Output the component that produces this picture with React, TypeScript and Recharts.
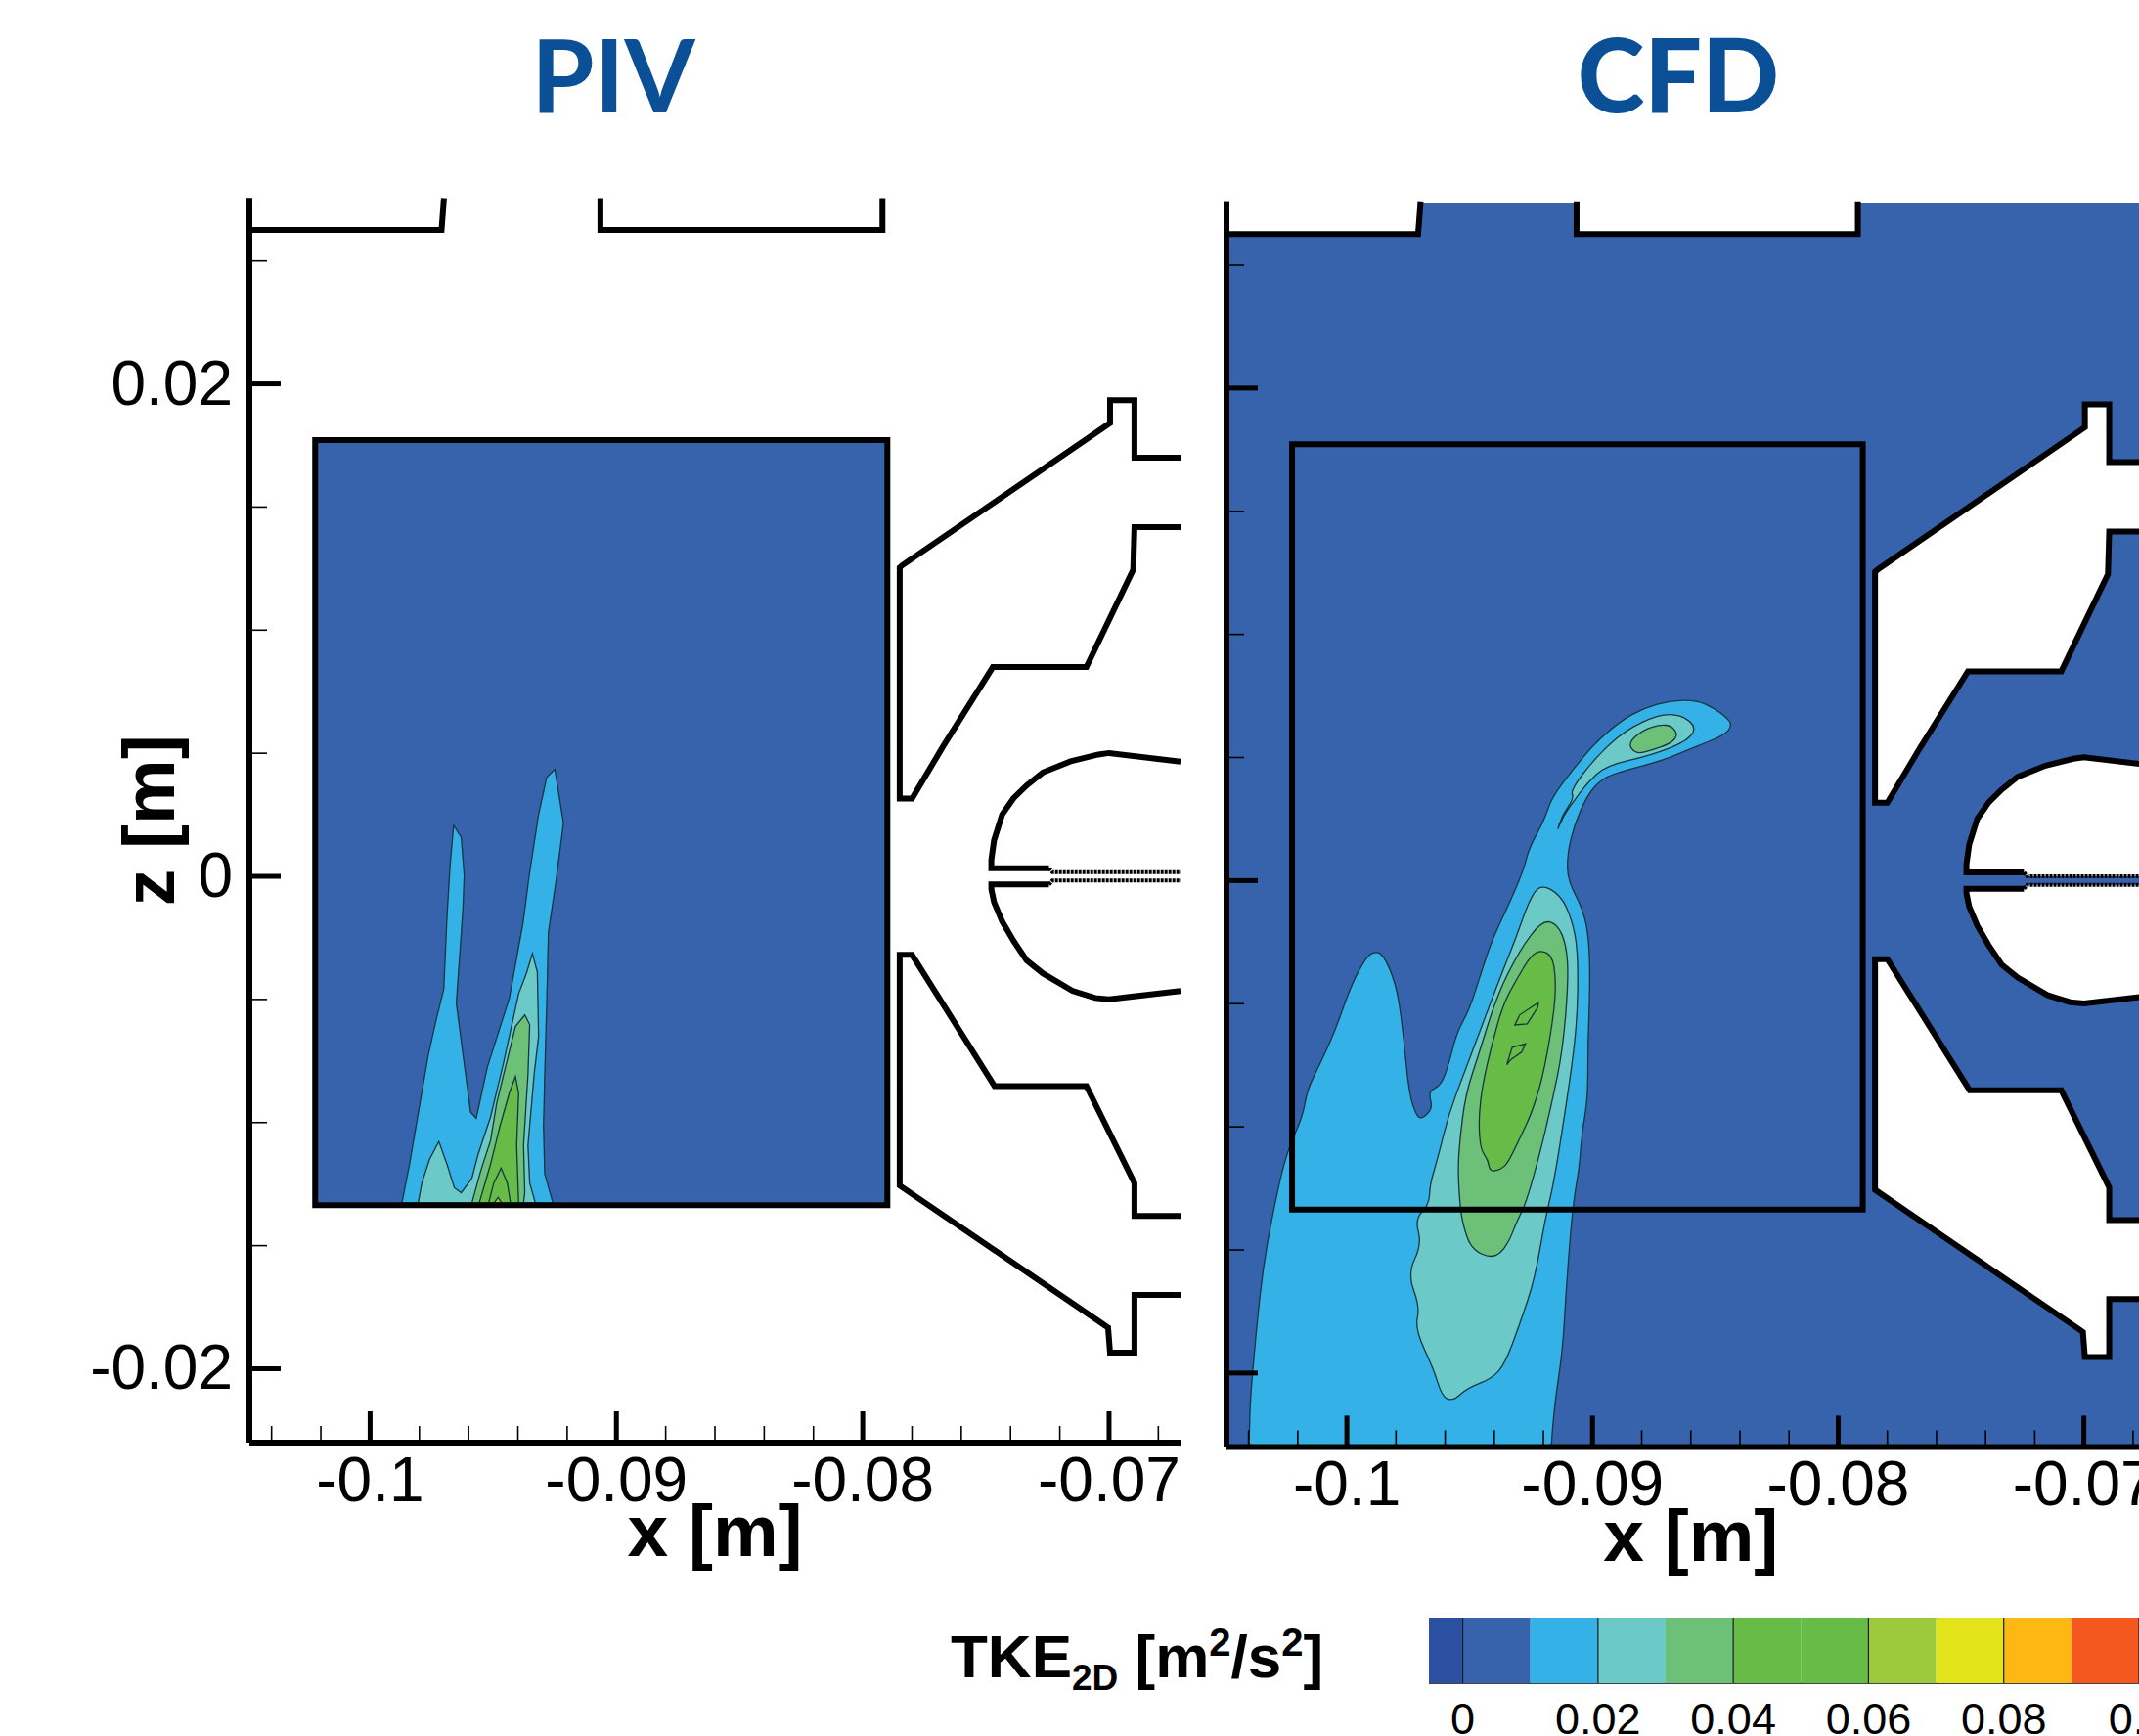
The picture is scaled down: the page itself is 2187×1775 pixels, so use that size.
import { Label, ReferenceLine, Scatter, ScatterChart, XAxis, YAxis } from 'recharts';

// all outlines below in millimetres, mm() turns them into metres
type Row = [number, number];
const mm = (rows: Row[]) => rows.map(([x, z]) => ({ x: x / 1000, z: z / 1000 }));

const xDomain = [-0.1049, -0.0671];
const zDomain = [-0.023, 0.0275];
const xTicks = [-0.104, -0.102, -0.1, -0.098, -0.096, -0.094, -0.092, -0.09, -0.088, -0.086, -0.084, -0.082, -0.08, -0.078, -0.076, -0.074, -0.072, -0.07, -0.068];
const xMajor = [-0.1, -0.09, -0.08, -0.07];
const zTicks = [0.025, 0.02, 0.015, 0.01, 0.005, 0, -0.005, -0.01, -0.015, -0.02];
const zMajor = [0.02, 0, -0.02];

const bandEdges = [-0.005, 0, 0.01, 0.02, 0.03, 0.04, 0.05, 0.06, 0.07, 0.08, 0.09, 0.1];
const bandColors = ['#2B4FA1', '#3763AD', '#34B2E8', '#6BCAC8', '#6CC077', '#66BC46', '#66BC46', '#9BCB3C', '#E2E31A', '#FDB813', '#F4581F'];
const legendTicks = [0, 0.02, 0.04, 0.06, 0.08, 0.1];

const plotBackground: Row[] = [[-104.9, 27.5], [-67.1, 27.5], [-67.1, -23], [-104.9, -23]];
const measureBox: Row[] = [[-102.23, 17.72], [-79.0, 17.72], [-79.0, -13.36], [-102.23, -13.36], [-102.23, 17.72]];

const bracketLeft: Row[] = [[-104.9, 27.55], [-104.9, 26.26], [-97.1, 26.26], [-97.0, 27.55]];
const bracketRight: Row[] = [[-90.65, 27.55], [-90.65, 26.26], [-79.2, 26.26], [-79.2, 27.55]];
const upperVane: Row[] = [
  [-67.1, 17.0], [-68.97, 17.0], [-68.97, 19.34], [-69.96, 19.34], [-69.96, 18.41], [-78.4, 12.63], [-78.5, 12.54],
  [-78.5, 3.16], [-78.0, 3.16], [-76.75, 5.26], [-74.72, 8.5], [-70.92, 8.5], [-69.02, 12.45], [-68.97, 14.18], [-67.1, 14.18],
];
const lowerVane: Row[] = [
  [-67.1, -13.79], [-68.97, -13.79], [-68.97, -12.46], [-70.92, -8.52], [-74.65, -8.52], [-78.0, -3.19], [-78.5, -3.19],
  [-78.5, -12.56], [-70.04, -18.33], [-69.96, -19.35], [-68.97, -19.35], [-68.97, -17.0], [-67.1, -17.0],
];
const noseUpper: Row[] = [
  [-67.1, 4.66], [-70.0, 5.01], [-70.43, 4.95], [-71.56, 4.67], [-72.69, 4.22], [-73.35, 3.69], [-73.88, 3.17], [-74.34, 2.51], [-74.67, 1.46], [-74.78, 0.67], [-74.78, 0.33], [-72.44, 0.33],
];
const tailUpper: Row[] = [[-72.44, 0.33], [-72.3, 0.17], [-67.1, 0.17]];
const noseLower: Row[] = [
  [-67.1, -4.66], [-70.0, -4.99], [-70.56, -4.94], [-71.49, -4.65], [-72.69, -3.94], [-73.35, -3.41], [-73.88, -2.62], [-74.34, -1.83], [-74.67, -1.05], [-74.78, -0.52], [-74.78, -0.33], [-72.44, -0.33],
];
const tailLower: Row[] = [[-72.44, -0.33], [-72.3, -0.17], [-67.1, -0.17]];

const pivLevel1: Row[] = [
  [-98.71, -13.27], [-98.4, -11.69], [-98.07, -9.77], [-97.64, -7.27], [-97.34, -5.92], [-97.01, -4.58], [-96.88, -1.69], [-96.76, 0.34],
  [-96.61, 2.07], [-96.3, 1.58], [-96.18, 0.04], [-96.23, -1.31], [-96.5, -5.15], [-96.25, -7.08], [-95.92, -9.58], [-95.69, -9.83],
  [-95.24, -7.75], [-94.35, -4.96], [-93.79, -1.88], [-93.54, 0.04], [-93.16, 2.52], [-92.83, 4.02], [-92.5, 4.35], [-92.15, 2.16],
  [-92.45, -0.17], [-92.76, -2.27], [-92.83, -5.15], [-92.91, -8.04], [-92.96, -10.15], [-92.91, -12.08], [-92.58, -13.27],
];
const pivLevel2: Row[] = [
  [-98.05, -13.27], [-97.9, -12.46], [-97.59, -11.5], [-97.21, -10.77], [-96.88, -11.69], [-96.58, -12.65], [-96.3, -12.85], [-95.87, -12.27],
  [-95.62, -11.31], [-95.11, -9.77], [-94.6, -7.65], [-93.97, -4.77], [-93.64, -3.9], [-93.41, -3.13], [-93.21, -3.9], [-93.16, -6.5],
  [-93.34, -8.04], [-93.59, -10.92], [-93.52, -12.46], [-93.29, -13.27],
];
const pivLevel3: Row[] = [
  [-95.87, -13.27], [-95.49, -11.9], [-95.11, -10.73], [-94.86, -9.2], [-94.48, -7.65], [-94.1, -6.1], [-93.72, -5.63], [-93.52, -6.02],
  [-93.59, -8.04], [-93.77, -10.92], [-93.72, -12.85], [-93.77, -13.27],
];
const pivLevel4: Row[] = [
  [-95.57, -13.27], [-95.11, -11.69], [-94.73, -10.15], [-94.35, -8.81], [-94.1, -8.13], [-93.97, -8.81], [-94.05, -10.92], [-93.97, -13.27],
];
const pivLevel5: Row[] = [[-95.19, -13.27], [-94.98, -12.46], [-94.68, -11.85], [-94.43, -12.46], [-94.3, -13.27]];
const pivLevel6: Row[] = [[-94.98, -13.27], [-94.8, -13.04], [-94.66, -13.27]];

const cfdLevel1: Row[] = [
  [-103.98, -23], [-103.97, -22.5], [-103.93, -21.04], [-103.7, -18.41], [-103.4, -15.58], [-102.86, -12.74], [-102.41, -10.92], [-101.8, -9.6], [-101.61, -8.49],
  [-101.11, -7.48], [-100.5, -6.16], [-99.82, -4.24], [-99.28, -3.23], [-98.98, -2.92], [-98.6, -2.92], [-98.22, -3.63], [-97.91, -4.64],
  [-97.68, -6.47], [-97.46, -8.69], [-97.15, -9.6], [-96.92, -9.66], [-96.51, -9.26], [-96.65, -8.69], [-96.54, -8.49], [-96.16, -8.29],
  [-95.86, -7.48], [-95.52, -6.16], [-95.02, -5.25], [-94.56, -3.83], [-94.1, -2.42], [-93.42, -1.0], [-92.81, 0.42], [-92.58, 1.33],
  [-91.97, 2.44], [-91.67, 3.35], [-90.83, 4.47], [-89.91, 5.58], [-88.85, 6.49], [-87.93, 7.0], [-86.87, 7.3], [-85.8, 7.34], [-85.04, 7.0],
  [-84.51, 6.59], [-84.32, 6.29], [-84.66, 5.89], [-85.95, 5.38], [-87.17, 4.87], [-88.7, 4.47], [-89.61, 4.16], [-90.22, 3.46], [-90.75, 2.24],
  [-91.03, 1.03], [-91.01, 0.01], [-90.37, -1.2], [-90.14, -2.42], [-90.1, -4.24], [-90.19, -6.67], [-90.19, -8.9], [-90.45, -10.31],
  [-90.52, -11.53], [-90.8, -13.15], [-91.06, -16.39], [-91.21, -19.02], [-91.51, -21.04], [-91.65, -22.5], [-91.67, -23], [-92, -23], [-103.6, -23],
];
const cfdLevel2: Row[] = [
  [-96.13, -20.94], [-96.47, -19.83], [-97.23, -18.21], [-97.03, -17.3], [-97.53, -15.98], [-96.95, -14.77], [-97.23, -13.75], [-96.65, -13.15],
  [-96.62, -12.34], [-96.31, -11.32], [-95.86, -9.5], [-95.25, -7.88], [-94.56, -6.06], [-93.88, -4.24], [-93.11, -2.31], [-92.58, -0.8],
  [-92.12, -0.13], [-91.29, -0.59], [-90.83, -1.61], [-90.6, -2.82], [-90.6, -5.05], [-90.75, -6.87], [-91.13, -9.5], [-91.59, -12.34],
  [-91.93, -13.75], [-92.35, -16.18], [-92.96, -18.01], [-93.57, -19.63], [-94.1, -20.23], [-95.09, -20.6], [-95.7, -21.15],
];
const cfdLobe2: Row[] = [
  [-91.47, 1.94], [-91.24, 2.65], [-90.75, 3.35], [-90.9, 3.66], [-89.91, 4.97], [-88.7, 6.09], [-87.32, 6.74], [-86.41, 6.74], [-85.77, 6.25],
  [-86.11, 5.68], [-87.63, 5.08], [-89.46, 4.67], [-90.22, 3.96], [-90.75, 3.25], [-91.2, 2.6],
];
const cfdLevel3: Row[] = [
  [-94.06, -15.37], [-94.94, -14.97], [-95.28, -13.96], [-95.4, -13.15], [-95.48, -11.73], [-95.4, -10.51], [-95.17, -8.69], [-94.64, -7.07],
  [-93.88, -4.64], [-92.96, -2.82], [-92.05, -1.61], [-91.44, -1.75], [-91.06, -2.62], [-90.98, -4.04], [-91.21, -6.87], [-91.67, -9.1],
  [-92.2, -11.32], [-92.73, -13.15], [-93.04, -13.75], [-93.49, -14.87],
];
const cfdLobe3: Row[] = [
  [-88.57, 5.58], [-87.93, 6.13], [-87.25, 6.33], [-86.79, 6.29], [-86.52, 5.93], [-86.79, 5.58], [-87.63, 5.28], [-88.24, 5.14],
];
const cfdLevel4: Row[] = [
  [-94.18, -11.83], [-94.26, -11.32], [-94.56, -10.92], [-94.64, -9.7], [-94.48, -8.29], [-94.1, -6.67], [-93.65, -5.05], [-93.11, -4.04],
  [-92.5, -3.02], [-92.05, -2.82], [-91.59, -3.12], [-91.48, -4.44], [-91.67, -6.06], [-92.05, -8.09], [-92.5, -9.5], [-92.89, -10.31],
  [-93.42, -11.43], [-93.72, -11.73],
];
const cfdCoreA: Row[] = [[-93.16, -5.86], [-92.96, -5.45], [-92.35, -5.05], [-92.2, -4.95], [-92.23, -5.15], [-92.66, -5.82]];
const cfdCoreB: Row[] = [[-93.49, -7.48], [-93.27, -6.77], [-92.73, -6.63], [-92.89, -6.97], [-93.34, -7.28]];

const BLUE = '#3763AD';
const SKY = '#34B2E8';
const TEAL = '#6BCAC8';
const MINT = '#6CC077';
const GREEN = '#66BC46';
const LIME = '#9BCB3C';
const CONTOUR = '#17353f';
const FONT = '"Liberation Sans", Arial, sans-serif';
const WALL = 6;

const noMarker = () => <g />;

function toPath(points: { x: number; y: number }[], closed: boolean) {
  const d = points.map((p, i) => `${i === 0 ? 'M' : 'L'}${p.x} ${p.y}`).join(' ');
  return closed ? `${d} Z` : d;
}

// closed path through the segment midpoints, the read vertices become control points
function toSmoothPath(points: { x: number; y: number }[]) {
  const n = points.length;
  const mid = (a: any, b: any) => ({ x: (a.x + b.x) / 2, y: (a.y + b.y) / 2 });
  const start = mid(points[n - 1], points[0]);
  let d = `M${start.x} ${start.y}`;
  points.forEach((p, i) => {
    const m = mid(p, points[(i + 1) % n]);
    d += ` Q${p.x} ${p.y} ${m.x} ${m.y}`;
  });
  return `${d} Z`;
}

// scatter points joined into a filled outline, so everything goes through the axis scales
function outline(key: string, rows: Row[], fill: string, stroke: string, width: number, closed = true, dash?: string, smooth = false) {
  return (
    <Scatter
      key={key}
      data={mm(rows)}
      isAnimationActive={false}
      shape={noMarker}
      line={(p: any) => (
        <path
          d={smooth ? toSmoothPath(p.points) : toPath(p.points, closed)}
          fill={fill}
          stroke={stroke}
          strokeWidth={width}
          strokeDasharray={dash}
          strokeLinejoin="miter"
        />
      )}
    />
  );
}

const contour = (key: string, rows: Row[], fill: string) => outline(key, rows, fill, CONTOUR, 1.3);
const softContour = (key: string, rows: Row[], fill: string) => outline(key, rows, fill, CONTOUR, 1.3, true, undefined, true);

function XTick({ x, y, payload }: any) {
  const major = xMajor.some((m) => Math.abs(m - payload.value) < 1e-9);
  return (
    <g>
      <line x1={x} x2={x} y1={y} y2={y - (major ? 32 : 17)} stroke="#000" strokeWidth={major ? 5 : 1.6} />
      {major && (
        <text x={x} y={y + 60} textAnchor="middle" fontFamily={FONT} fontSize={64} fill="#000">
          {payload.value}
        </text>
      )}
    </g>
  );
}

function ZTick({ x, y, payload, showLabels }: any) {
  const major = zMajor.some((m) => Math.abs(m - payload.value) < 1e-9);
  return (
    <g>
      <line x1={x} x2={x + (major ? 32 : 18)} y1={y} y2={y} stroke="#000" strokeWidth={major ? 5 : 1.6} />
      {major && showLabels && (
        <text x={x - 17} y={y + 21} textAnchor="end" fontFamily={FONT} fontSize={64} fill="#000">
          {payload.value}
        </text>
      )}
    </g>
  );
}

function LegendTick({ x, y, payload }: any) {
  return (
    <text x={x} y={y + 52} textAnchor="middle" fontFamily={FONT} fontSize={45} fill="#000">
      {payload.value}
    </text>
  );
}

function vaneLines() {
  return [
    outline('bl', bracketLeft, 'none', '#000', WALL, false),
    outline('br', bracketRight, 'none', '#000', WALL, false),
    outline('uv', upperVane, 'none', '#000', WALL, false),
    outline('lv', lowerVane, 'none', '#000', WALL, false),
    outline('nu', noseUpper, 'none', '#000', WALL, false),
    outline('nl', noseLower, 'none', '#000', WALL, false),
    outline('tu', tailUpper, 'none', '#000', 4, false, '3 1'),
    outline('tl', tailLower, 'none', '#000', 4, false, '3 1'),
  ];
}

function holes() {
  return [
    outline('hbl', bracketLeft, '#fff', 'none', 0),
    outline('hbr', bracketRight, '#fff', 'none', 0),
    outline('huv', upperVane, '#fff', 'none', 0),
    outline('hlv', lowerVane, '#fff', 'none', 0),
    outline('hnu', [...noseUpper, ...tailUpper], '#fff', 'none', 0),
    outline('hnl', [...noseLower, ...tailLower], '#fff', 'none', 0),
  ];
}

function axes(showLabels: boolean) {
  return [
    <XAxis
      key="x"
      type="number"
      dataKey="x"
      domain={xDomain}
      ticks={xTicks}
      interval={0}
      height={1}
      tickSize={0}
      tickMargin={0}
      tickLine={false}
      axisLine={{ stroke: '#000', strokeWidth: 6 }}
      tick={<XTick />}
      zIndex={900}
    >
      <Label value="x [m]" position="bottom" offset={62} fontFamily={FONT} fontSize={75} fontWeight={700} fill="#000" />
    </XAxis>,
    <YAxis
      key="z"
      type="number"
      dataKey="z"
      domain={zDomain}
      ticks={zTicks}
      interval={0}
      width={1}
      tickSize={0}
      tickMargin={0}
      tickLine={false}
      axisLine={{ stroke: '#000', strokeWidth: 6 }}
      tick={<ZTick showLabels={showLabels} />}
      zIndex={900}
    >
      {showLabels && (
        <Label
          value="z [m]"
          angle={-90}
          position="left"
          offset={103}
          textAnchor="middle"
          fontFamily={FONT}
          fontSize={75}
          fontWeight={700}
          fill="#000"
        />
      )}
    </YAxis>,
  ];
}

function Title({ text, center, weight }: { text: string; center: number; weight: number }) {
  return (
    <div
      style={{
        position: 'absolute',
        left: center - 200,
        top: 10,
        width: 400,
        textAlign: 'center',
        fontFamily: 'Lato, sans-serif',
        fontWeight: weight,
        fontSize: 104,
        lineHeight: '130px',
        color: '#0B4F96',
      }}
    >
      {text}
    </div>
  );
}

export default function App() {
  return (
    <div style={{ position: 'absolute', left: 0, top: 0, width: 2187, height: 1775, overflow: 'hidden', background: '#fff' }}>
      <Title text="PIV" center={627} weight={700} />
      <Title text="CFD" center={1716} weight={900} />

      <div style={{ position: 'absolute', left: 0, top: 0 }}>
        <ScatterChart width={1260} height={1660} margin={{ top: 202.5, left: 254, right: 53, bottom: 184 }}>
          {contour('bg', measureBox.slice(0, 4), BLUE)}
          {contour('p1', pivLevel1, SKY)}
          {contour('p2', pivLevel2, TEAL)}
          {contour('p3', pivLevel3, MINT)}
          {contour('p4', pivLevel4, GREEN)}
          {contour('p5', pivLevel5, GREEN)}
          {contour('p6', pivLevel6, LIME)}
          {outline('box', measureBox, 'none', '#000', WALL, true)}
          {vaneLines()}
          {axes(true)}
        </ScatterChart>
      </div>

      <div style={{ position: 'absolute', left: 1200, top: 0 }}>
        <ScatterChart width={1060} height={1660} margin={{ top: 206.8, left: 53, right: 56.5, bottom: 179.6 }}>
          {outline('bg', plotBackground, BLUE, 'none', 0)}
          {softContour('c1', cfdLevel1, SKY)}
          {softContour('c2', cfdLevel2, TEAL)}
          {softContour('c2b', cfdLobe2, TEAL)}
          {softContour('c3', cfdLevel3, MINT)}
          {softContour('c3b', cfdLobe3, MINT)}
          {softContour('c4', cfdLevel4, GREEN)}
          {contour('c5a', cfdCoreA, GREEN)}
          {contour('c5b', cfdCoreB, GREEN)}
          {outline('box', measureBox, 'none', '#000', WALL, true)}
          {holes()}
          {vaneLines()}
          {axes(false)}
        </ScatterChart>
      </div>

      <div
        style={{
          position: 'absolute',
          left: 972,
          top: 1634,
          whiteSpace: 'nowrap',
          fontFamily: FONT,
          fontWeight: 700,
          fontSize: 62,
          lineHeight: '90px',
          color: '#000',
        }}
      >
        TKE<sub style={{ fontSize: 37 }}>2D</sub> [m<sup style={{ fontSize: 40 }}>2</sup>/s<sup style={{ fontSize: 40 }}>2</sup>]
      </div>

      <div style={{ position: 'absolute', left: 1461, top: 1654 }}>
        <ScatterChart width={760} height={121} margin={{ top: 0, left: 0, right: 34, bottom: 53 }}>
          <XAxis
            type="number"
            dataKey="x"
            domain={[-0.005, 0.1]}
            ticks={legendTicks}
            interval={0}
            height={1}
            tickSize={0}
            tickMargin={0}
            tickLine={false}
            axisLine={false}
            tick={<LegendTick />}
            zIndex={900}
          />
          <YAxis type="number" dataKey="z" domain={[0, 1]} hide width={1} />
          {bandColors.map((color, i) => {
            const lo = bandEdges[i] * 1000;
            const hi = bandEdges[i + 1] * 1000;
            return outline(`band${i}`, [[lo, 0], [hi, 0], [hi, 1000], [lo, 1000]], color, 'none', 0);
          })}
          {legendTicks.map((t) => outline(`sep${t}`, [[t * 1000, 0], [t * 1000, 1000]], 'none', '#1a1a1a', 1.2, false))}
          <ReferenceLine y={0} stroke="#444" strokeWidth={2} />
          <ReferenceLine y={1} stroke="#666" strokeWidth={2} />
        </ScatterChart>
      </div>
    </div>
  );
}
